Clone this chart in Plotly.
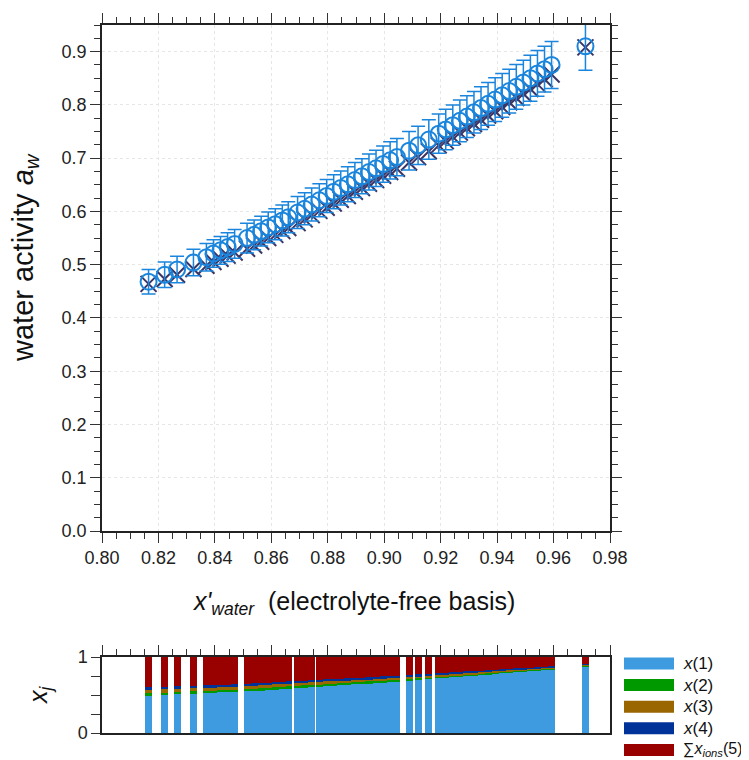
import plotly.graph_objects as go

# ---------------- data ----------------
x_water = [0.8165, 0.8222, 0.8266, 0.8324, 0.8370, 0.8395, 0.8420, 0.8445, 0.8470,
           0.8514, 0.8539, 0.8564, 0.8589, 0.8614, 0.8639, 0.8660,
           0.8693, 0.8718, 0.8743, 0.8770,
           0.8796, 0.8821, 0.8846, 0.8871, 0.8896, 0.8921, 0.8946, 0.8971, 0.8996, 0.9021,
           0.9045, 0.9088, 0.9120, 0.9158,
           0.9193, 0.9218, 0.9243, 0.9268, 0.9293, 0.9318, 0.9343, 0.9368, 0.9393, 0.9418,
           0.9443, 0.9468, 0.9493, 0.9518, 0.9543, 0.9568, 0.9593,
           0.9713]

aw_exp = [0.468, 0.481, 0.491, 0.504, 0.514, 0.521, 0.527, 0.533, 0.539,
          0.550, 0.556, 0.563, 0.570, 0.576, 0.583, 0.589,
          0.598, 0.605, 0.613, 0.621,
          0.629, 0.637, 0.644, 0.651, 0.659, 0.666, 0.674, 0.681, 0.689, 0.696,
          0.702, 0.714, 0.724, 0.735,
          0.746, 0.754, 0.762, 0.770, 0.778, 0.786, 0.794, 0.802, 0.810, 0.818,
          0.826, 0.834, 0.842, 0.850, 0.859, 0.867, 0.875,
          0.910]

aw_err = [0.023, 0.024, 0.025, 0.025, 0.026, 0.026, 0.026, 0.027, 0.027,
          0.028, 0.028, 0.028, 0.029, 0.029, 0.029, 0.029,
          0.030, 0.030, 0.031, 0.031,
          0.031, 0.032, 0.032, 0.033, 0.033, 0.033, 0.034, 0.034, 0.034, 0.035,
          0.035, 0.036, 0.036, 0.037,
          0.037, 0.038, 0.038, 0.039, 0.039, 0.039, 0.040, 0.040, 0.041, 0.041,
          0.041, 0.042, 0.042, 0.043, 0.043, 0.043, 0.044,
          0.045]

aw_model = [0.464, 0.473, 0.481, 0.492, 0.498, 0.505, 0.511, 0.517, 0.523,
            0.530, 0.536, 0.543, 0.550, 0.556, 0.563, 0.569,
            0.578, 0.585, 0.593, 0.601,
            0.607, 0.615, 0.622, 0.629, 0.637, 0.644, 0.652, 0.659, 0.667, 0.674,
            0.680, 0.692, 0.702, 0.713,
            0.724, 0.732, 0.740, 0.748, 0.756, 0.764, 0.772, 0.780, 0.788, 0.796,
            0.805, 0.813, 0.821, 0.830, 0.839, 0.848, 0.857,
            0.908]

x1 = [0.490, 0.500, 0.508, 0.518, 0.526, 0.530, 0.534, 0.539, 0.543,
      0.551, 0.557, 0.563, 0.570, 0.576, 0.582, 0.587,
      0.595, 0.601, 0.607, 0.614,
      0.620, 0.626, 0.632, 0.638, 0.645, 0.651, 0.657, 0.663, 0.669, 0.675,
      0.682, 0.694, 0.703, 0.714,
      0.724, 0.731, 0.738, 0.746, 0.753, 0.760, 0.768, 0.775, 0.782, 0.790,
      0.797, 0.805, 0.812, 0.819, 0.827, 0.834, 0.842,
      0.880]
x2 = [0.031, 0.030, 0.030, 0.029, 0.029, 0.028, 0.028, 0.028, 0.027,
      0.027, 0.027, 0.026, 0.026, 0.026, 0.026, 0.025,
      0.025, 0.025, 0.024, 0.024,
      0.024, 0.024, 0.023, 0.023, 0.022, 0.022, 0.022, 0.021, 0.021, 0.020,
      0.020, 0.020, 0.019, 0.018,
      0.018, 0.017, 0.017, 0.017, 0.016, 0.016, 0.015, 0.015, 0.014, 0.014,
      0.013, 0.013, 0.012, 0.011, 0.011, 0.011, 0.010,
      0.007]
x3 = [0.044, 0.043, 0.043, 0.042, 0.041, 0.040, 0.040, 0.040, 0.039,
      0.038, 0.038, 0.038, 0.038, 0.037, 0.037, 0.036,
      0.036, 0.035, 0.035, 0.034,
      0.034, 0.033, 0.033, 0.032, 0.032, 0.032, 0.031, 0.030, 0.030, 0.029,
      0.029, 0.028, 0.027, 0.026,
      0.026, 0.025, 0.024, 0.023, 0.023, 0.022, 0.022, 0.021, 0.020, 0.020,
      0.019, 0.018, 0.017, 0.017, 0.016, 0.015, 0.014,
      0.011]
x4 = [0.035, 0.035, 0.034, 0.033, 0.032, 0.033, 0.032, 0.031, 0.032,
      0.031, 0.030, 0.030, 0.030, 0.030, 0.029, 0.030,
      0.028, 0.028, 0.028, 0.028,
      0.027, 0.027, 0.026, 0.026, 0.026, 0.025, 0.024, 0.025, 0.024, 0.024,
      0.023, 0.022, 0.022, 0.022,
      0.020, 0.020, 0.019, 0.019, 0.018, 0.018, 0.017, 0.016, 0.017, 0.015,
      0.015, 0.014, 0.014, 0.013, 0.013, 0.012, 0.012,
      0.008]
x_ions = [0.400, 0.392, 0.385, 0.378, 0.372, 0.369, 0.366, 0.362, 0.359,
          0.353, 0.348, 0.343, 0.336, 0.331, 0.326, 0.322,
          0.316, 0.311, 0.306, 0.300,
          0.295, 0.290, 0.286, 0.281, 0.275, 0.270, 0.266, 0.261, 0.256, 0.252,
          0.246, 0.236, 0.229, 0.220,
          0.212, 0.207, 0.202, 0.195, 0.190, 0.184, 0.178, 0.173, 0.167, 0.161,
          0.156, 0.150, 0.145, 0.140, 0.133, 0.128, 0.122,
          0.094]

comp_names = ["<i>x</i>(1)", "<i>x</i>(2)", "<i>x</i>(3)", "<i>x</i>(4)",
              "∑<i>x</i><sub><i>ions</i></sub>(5)"]
comp_colors = ["#3F9BE0", "#009A00", "#996600", "#003399", "#990000"]

# ---------------- figure ----------------
# the page body has an 8 px default margin, so the figure is placed at (8, 8)
OFF = 8
W, H = 749 - OFF, 760 - OFF
FONT = "Liberation Sans, Arial, sans-serif"


def px(xp):
    return (xp - OFF) / W


def py(yp):
    return 1 - (yp - OFF) / H


fig = go.Figure()

fig.add_trace(go.Scatter(
    x=x_water, y=aw_model, mode="markers", xaxis="x", yaxis="y",
    marker=dict(symbol="x-thin-open", size=16, color="#3b3565",
                line=dict(width=2, color="#3b3565")),
    showlegend=False))

fig.add_trace(go.Scatter(
    x=x_water, y=aw_exp, mode="markers", xaxis="x", yaxis="y",
    marker=dict(symbol="circle-open", size=16, color="#1a85dc",
                line=dict(width=2, color="#1a85dc")),
    error_y=dict(type="data", array=aw_err, visible=True, color="#1a85dc",
                 thickness=1.5, width=7),
    showlegend=False))

for vals, col in zip([x1, x2, x3, x4, x_ions], comp_colors):
    fig.add_trace(go.Bar(
        x=x_water, y=vals, xaxis="x2", yaxis="y2", width=0.0025,
        marker=dict(color=col, line=dict(width=0)), showlegend=False))

xd = [px(102), px(610)]
axis_common = dict(showline=True, linecolor="#222", linewidth=1.5,
                   ticks="outside", tickcolor="#333", tickwidth=1.2,
                   tickfont=dict(family=FONT, size=18, color="#222"),
                   zeroline=False, automargin=False)

fig.update_layout(
    width=W, height=H, margin=dict(l=0, r=0, t=0, b=0),
    paper_bgcolor="white", plot_bgcolor="white",
    barmode="stack", bargap=0,
    xaxis=dict(domain=xd, range=[0.80, 0.98], anchor="y",
               tickvals=[0.80 + 0.02 * i for i in range(10)], tickformat=".2f",
               ticklen=10, mirror="allticks",
               minor=dict(dtick=0.005, tick0=0.80, ticklen=6, ticks="outside",
                          tickcolor="#333", showgrid=False),
               showgrid=True, gridcolor="#e6e6e6", griddash="dot", gridwidth=1,
               **axis_common),
    yaxis=dict(domain=[py(531), py(25)], range=[0, 0.95], anchor="x",
               tickvals=[0.1 * i for i in range(10)], tickformat=".1f",
               ticklen=10, mirror="allticks",
               minor=dict(dtick=0.025, tick0=0, ticklen=6, ticks="outside",
                          tickcolor="#333", showgrid=False),
               showgrid=True, gridcolor="#e6e6e6", griddash="dot", gridwidth=1,
               **axis_common),
    xaxis2=dict(domain=xd, range=[0.80, 0.98], anchor="y2", side="top",
                tickvals=[0.80 + 0.02 * i for i in range(10)],
                showticklabels=False, ticklen=10, mirror=True,
                minor=dict(dtick=0.005, tick0=0.80, ticklen=6, ticks="outside",
                           tickcolor="#333", showgrid=False),
                showgrid=False, **axis_common),
    yaxis2=dict(domain=[py(733), py(657)], range=[0, 1], anchor="x2",
                tickvals=[0, 1], ticktext=["0", "1"],
                ticklen=9, mirror=True, showgrid=False,
                minor=dict(dtick=0.25, tick0=0, ticklen=9, ticks="outside",
                           tickcolor="#333", showgrid=False),
                **axis_common),
)

ann = []
ann.append(dict(text="water activity <i>a</i><sub><i>w</i></sub>", textangle=-90,
                x=px(25), y=py(258), xref="paper", yref="paper",
                xanchor="center", yanchor="middle",
                showarrow=False, font=dict(family=FONT, size=29, color="#111")))
ann.append(dict(text="<i>x'</i><sub><i>water</i></sub>&nbsp;&nbsp;(electrolyte-free basis)",
                x=px(354), y=py(603), xref="paper", yref="paper",
                xanchor="center", yanchor="middle",
                showarrow=False, font=dict(family=FONT, size=25, color="#111")))
ann.append(dict(text="<i>x</i><sub><i>j</i></sub>", textangle=-90,
                x=px(40), y=py(695), xref="paper", yref="paper",
                xanchor="center", yanchor="middle",
                showarrow=False, font=dict(family=FONT, size=25, color="#111")))

shapes = []
for i, (name, col) in enumerate(zip(comp_names, comp_colors)):
    yc = 663.5 + 21.6 * i
    shapes.append(dict(type="rect", xref="paper", yref="paper",
                       x0=px(624), x1=px(674), y0=py(yc + 6), y1=py(yc - 6),
                       fillcolor=col, line=dict(width=0)))
    ann.append(dict(text=name, x=px(681), y=py(yc), xref="paper", yref="paper",
                    xanchor="left", yanchor="middle", showarrow=False,
                    font=dict(family=FONT, size=17 if i < 4 else 16, color="#111")))

fig.update_layout(annotations=ann, shapes=shapes)
fig.write_html("out.html")
